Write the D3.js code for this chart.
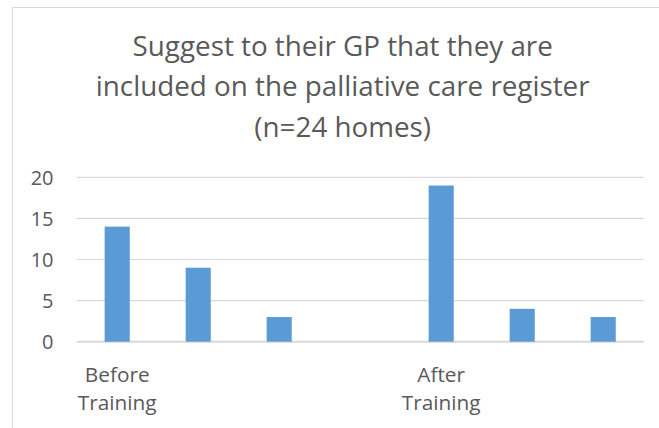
<!DOCTYPE html>
<html>
<head>
<meta charset="utf-8">
<script src="https://cdn.jsdelivr.net/npm/d3@7"></script>
<style>
  html, body { margin: 0; padding: 0; background: #ffffff; }
  svg { display: block; }
  text { font-family: "Open Sans", "Noto Sans", sans-serif; fill: #595959; }
</style>
</head>
<body>
<svg id="chart" width="659" height="428"></svg>
<script>
// ---- data ----
const titleLines = ["Suggest to their GP that they are", "included on the palliative care register", "(n=24 homes)"];
const categories = ["c0", "c1", "c2", "c3", "c4", "c5", "c6"];
const categoryLabels = ["Before Training", "", "", "", "After Training", "", ""];
const values = [14, 9, 3, null, 19, 4, 3];
const yTicks = [0, 5, 10, 15, 20];

// ---- layout ----
const W = 659, H = 428;
const plot = { left: 76.7, right: 643.7, top: 177.3, bottom: 341.7 };

const svg = d3.select("#chart");

// chart area border (top & left visible)
svg.append("rect")
  .attr("x", 12.5).attr("y", 7.5)
  .attr("width", W + 20).attr("height", H + 20)
  .attr("fill", "#ffffff")
  .attr("stroke", "#d9d9d9").attr("stroke-width", 1);

const x = d3.scaleBand()
  .domain(categories)
  .range([plot.left, plot.right])
  .paddingInner(0.69)
  .paddingOuter(0.345);

const y = d3.scaleLinear()
  .domain([0, 20])
  .range([plot.bottom, plot.top]);

// gridlines
svg.append("g")
  .selectAll("line")
  .data(yTicks)
  .join("line")
  .attr("x1", plot.left).attr("x2", plot.right)
  .attr("y1", d => y(d)).attr("y2", d => y(d))
  .attr("stroke", "#d9d9d9")
  .attr("stroke-width", d => d === 0 ? 2 : 1.2);

// y axis labels
const yAxis = d3.axisLeft(y).tickValues(yTicks).tickSize(0).tickPadding(0);
const yg = svg.append("g")
  .attr("transform", `translate(${53.5},0)`)
  .call(yAxis);
yg.select(".domain").remove();
yg.selectAll("text")
  .attr("font-size", 20)
  .attr("font-family", "Open Sans, sans-serif")
  .attr("fill", "#595959")
  .attr("dy", "0.36em");

// bars
const barData = categories.map((c, i) => ({ c, v: values[i] })).filter(d => d.v != null);
svg.append("g")
  .selectAll("rect")
  .data(barData)
  .join("rect")
  .attr("x", d => x(d.c))
  .attr("width", x.bandwidth())
  .attr("y", d => y(d.v))
  .attr("height", d => y(0) - y(d.v))
  .attr("fill", "#5b9bd5");

// x category labels (wrapped)
const xl = svg.append("g");
categories.forEach((c, i) => {
  const label = categoryLabels[i];
  if (!label) return;
  const words = label.split(" ");
  const t = xl.append("text")
    .attr("text-anchor", "middle")
    .attr("font-size", 20.8);
  words.forEach((w, j) => {
    t.append("tspan")
      .attr("x", x(c) + x.bandwidth() / 2)
      .attr("y", 381.7 + j * 28.5)
      .text(w);
  });
});

// title
const tg = svg.append("text")
  .attr("text-anchor", "middle")
  .attr("font-size", 27.8);
titleLines.forEach((line, i) => {
  tg.append("tspan")
    .attr("x", 342.7)
    .attr("y", 56 + i * 40.3)
    .text(line);
});
</script>
</body>
</html>
